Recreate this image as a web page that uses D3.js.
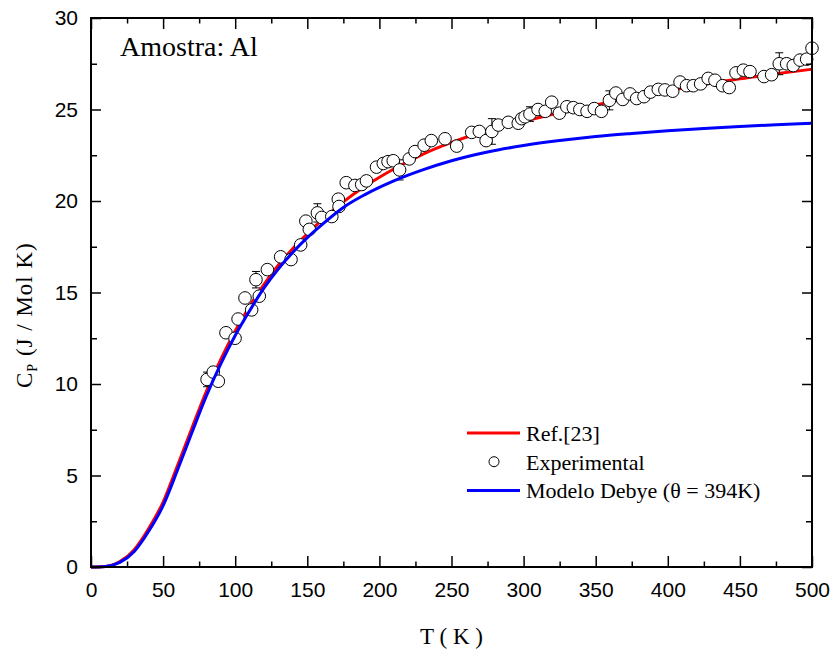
<!DOCTYPE html>
<html>
<head>
<meta charset="utf-8">
<script src="https://cdn.jsdelivr.net/npm/d3@7"></script>
<style>
    body { margin: 0; background: #fff; }
    svg { display: block; }
</style>
</head>
<body>
<svg width="832" height="652"></svg>
<script>
    //参考曲线 Ref.[23]
    const refT = [0, 10, 20, 30, 40, 50, 60, 70, 80, 90, 100, 110, 120, 130, 140, 150, 160, 175, 190, 210, 230, 250, 275, 300, 325, 350, 375, 400, 425, 450, 475, 500];
    const refCp = [0, 0.03, 0.3, 0.95, 2.1, 3.55, 5.55, 7.6, 9.6, 11.35, 12.9, 14.25, 15.45, 16.5, 17.4, 18.2, 18.95, 19.95, 20.8, 21.75, 22.55, 23.2, 23.85, 24.35, 24.82, 25.25, 25.66, 26.03, 26.37, 26.68, 26.95, 27.2];

    //Debye 模型曲线 (θ = 394K)
    const debyeT = [0, 10, 20, 30, 40, 50, 60, 70, 80, 90, 100, 110, 120, 130, 140, 150, 160, 175, 190, 210, 230, 250, 275, 300, 325, 350, 375, 400, 425, 450, 475, 500];
    const debyeCp = [0, 0.03, 0.25, 0.85, 1.95, 3.35, 5.3, 7.35, 9.35, 11.1, 12.65, 14.0, 15.25, 16.3, 17.2, 18.0, 18.7, 19.65, 20.35, 21.1, 21.7, 22.2, 22.68, 23.03, 23.3, 23.52, 23.69, 23.84, 23.96, 24.07, 24.17, 24.25];

    //实验数据点及误差 (0 = 无误差棒)
    const expT = [80.5, 84.8, 88.3, 93.6, 99.9, 102, 106.8, 111.4, 114.4, 116.7, 122.3, 131.5, 138.7, 145.4, 149, 151.4, 157, 160, 167, 171.5, 172, 177, 183, 187.7, 191, 198, 202.7, 206, 209.6, 214, 220.7, 224.7, 231, 236, 245.5, 253.6, 264, 269.3, 274, 278, 282.5, 289.4, 296.3, 298.7, 301, 304.4, 310, 315, 319.5, 324.8, 330, 334.5, 339, 344, 349, 354, 359.5, 364, 368.7, 373.8, 378.4, 383.5, 388, 393.4, 398, 403.4, 408.5, 413, 417.7, 422.8, 428, 432.7, 438, 442.6, 447.3, 452.4, 457, 466.7, 472, 477.3, 482.4, 487, 491.7, 496.3, 500];
    const expCp = [10.25, 10.65, 10.15, 12.8, 12.5, 13.55, 14.7, 14.05, 15.7, 14.8, 16.25, 16.95, 16.8, 17.6, 18.9, 18.45, 19.35, 19.1, 19.15, 20.1, 19.7, 21.0, 20.85, 20.9, 21.1, 21.85, 22.05, 22.15, 22.2, 21.7, 22.3, 22.7, 23.05, 23.3, 23.4, 23.0, 23.75, 23.8, 23.3, 23.8, 24.15, 24.3, 24.25, 24.5, 24.6, 24.75, 25.0, 24.9, 25.4, 24.8, 25.15, 25.1, 25.0, 24.9, 25.05, 24.9, 25.5, 25.9, 25.55, 25.85, 25.6, 25.7, 25.95, 26.1, 26.07, 26.0, 26.5, 26.3, 26.3, 26.4, 26.7, 26.6, 26.3, 26.2, 27.0, 27.15, 27.07, 26.8, 26.9, 27.5, 27.5, 27.4, 27.7, 27.75, 28.35];
    const expErr = [0.4, 0, 0, 0, 0, 0, 0, 0, 0.45, 0, 0, 0, 0, 0, 0, 0, 0.5, 0, 0, 0, 0, 0, 0, 0, 0, 0, 0, 0, 0, 0.55, 0, 0, 0, 0, 0, 0, 0, 0, 0, 0.7, 0, 0, 0, 0, 0, 0.4, 0, 0, 0, 0, 0, 0, 0, 0, 0, 0, 0.52, 0, 0, 0, 0, 0, 0, 0, 0, 0, 0, 0, 0, 0, 0, 0, 0, 0, 0, 0, 0, 0, 0, 0.6, 0, 0, 0, 0, 0];

    //坐标轴刻度
    const xTicks = [0, 50, 100, 150, 200, 250, 300, 350, 400, 450, 500];
    const xMinor = [25, 75, 125, 175, 225, 275, 325, 375, 425, 475];
    const yTicks = [0, 5, 10, 15, 20, 25, 30];
    const yMinor = [2.5, 7.5, 12.5, 17.5, 22.5, 27.5];

    //图例
    const legendItems = [
        {label: "Ref.[23]", type: "line", color: "#ff0000"},
        {label: "Experimental", type: "circle", color: "#000"},
        {label: "Modelo Debye (\u03b8 = 394K)", type: "line", color: "#0000ff"}
    ];

    let svg = d3.select("svg");
    let plotLeft = 91, plotRight = 812, plotTop = 18, plotBottom = 567;

    let x = d3.scaleLinear().domain([0, 500]).range([plotLeft, plotRight]);
    let y = d3.scaleLinear().domain([0, 30]).range([plotBottom, plotTop]);

    const sansFont = "'Liberation Sans', Arial, sans-serif";
    const serifFont = "'Liberation Serif', 'Times New Roman', serif";

    let plot = svg.append("g");

    //曲线生成器
    function curveLine(ts, cps) {
        let pts = ts.map((t, i) => [t, cps[i]]);
        return d3.line()
            .x(d => x(d[0]))
            .y(d => y(d[1]))
            .curve(d3.curveMonotoneX)(pts);
    }

    //红色参考曲线(在数据点下方)
    plot.append("path")
        .attr("d", curveLine(refT, refCp))
        .attr("fill", "none")
        .attr("stroke", "#ff0000")
        .attr("stroke-width", 3);

    //实验数据误差棒
    let errData = expT.map((t, i) => ({t: t, cp: expCp[i], e: expErr[i]})).filter(d => d.e > 0);
    let err = plot.append("g").attr("stroke", "#000").attr("stroke-width", 1);
    errData.forEach(d => {
        let cx = x(d.t);
        err.append("line").attr("x1", cx).attr("x2", cx).attr("y1", y(d.cp - d.e)).attr("y2", y(d.cp + d.e));
        err.append("line").attr("x1", cx - 4).attr("x2", cx + 4).attr("y1", y(d.cp - d.e)).attr("y2", y(d.cp - d.e));
        err.append("line").attr("x1", cx - 4).attr("x2", cx + 4).attr("y1", y(d.cp + d.e)).attr("y2", y(d.cp + d.e));
    });

    //实验数据圆点
    plot.append("g")
        .selectAll("circle")
        .data(expT.map((t, i) => [t, expCp[i]]))
        .enter()
        .append("circle")
        .attr("cx", d => x(d[0]))
        .attr("cy", d => y(d[1]))
        .attr("r", 6.3)
        .attr("fill", "#fff")
        .attr("stroke", "#000")
        .attr("stroke-width", 1);

    //蓝色 Debye 曲线(在最上层)
    plot.append("path")
        .attr("d", curveLine(debyeT, debyeCp))
        .attr("fill", "none")
        .attr("stroke", "#0000ff")
        .attr("stroke-width", 3);

    //坐标轴(刻度朝内, 四边都有)
    function styleAxis(g) {
        g.select(".domain").remove();
        g.selectAll("line").attr("stroke", "#000").attr("stroke-width", 1.5);
        g.selectAll("text").attr("fill", "#000").style("font-family", sansFont).style("font-size", "21px");
    }

    svg.append("g").attr("transform", `translate(0,${plotBottom})`)
        .call(d3.axisBottom(x).tickValues(xTicks).tickFormat(d3.format("d")).tickSize(-11).tickPadding(15))
        .call(styleAxis);
    svg.append("g").attr("transform", `translate(0,${plotBottom})`)
        .call(d3.axisBottom(x).tickValues(xMinor).tickFormat("").tickSize(-5.5))
        .call(styleAxis);
    svg.append("g").attr("transform", `translate(0,${plotTop})`)
        .call(d3.axisTop(x).tickValues(xTicks).tickFormat("").tickSize(-11))
        .call(styleAxis);
    svg.append("g").attr("transform", `translate(0,${plotTop})`)
        .call(d3.axisTop(x).tickValues(xMinor).tickFormat("").tickSize(-5.5))
        .call(styleAxis);

    svg.append("g").attr("transform", `translate(${plotLeft},0)`)
        .call(d3.axisLeft(y).tickValues(yTicks).tickFormat(d3.format("d")).tickSize(-10).tickPadding(13))
        .call(styleAxis);
    svg.append("g").attr("transform", `translate(${plotLeft},0)`)
        .call(d3.axisLeft(y).tickValues(yMinor).tickFormat("").tickSize(-6))
        .call(styleAxis);
    svg.append("g").attr("transform", `translate(${plotRight},0)`)
        .call(d3.axisRight(y).tickValues(yTicks).tickFormat("").tickSize(-10))
        .call(styleAxis);
    svg.append("g").attr("transform", `translate(${plotRight},0)`)
        .call(d3.axisRight(y).tickValues(yMinor).tickFormat("").tickSize(-6))
        .call(styleAxis);

    //外框
    svg.append("rect")
        .attr("x", plotLeft).attr("y", plotTop)
        .attr("width", plotRight - plotLeft).attr("height", plotBottom - plotTop)
        .attr("fill", "none")
        .attr("stroke", "#000")
        .attr("stroke-width", 2);

    //坐标轴标题
    svg.append("text")
        .attr("x", (plotLeft + plotRight) / 2)
        .attr("y", 644)
        .attr("text-anchor", "middle")
        .style("font-family", serifFont)
        .style("font-size", "23px")
        .text("T ( K )");

    //纵轴标题, 从下往上
    let yTitle = svg.append("text")
        .attr("transform", "translate(32,388) rotate(-90)")
        .attr("text-anchor", "start")
        .style("font-family", serifFont)
        .style("font-size", "23px")
        .style("letter-spacing", "1px");
    yTitle.append("tspan").text("C");
    yTitle.append("tspan").attr("dy", 5).style("font-size", "14px").text("P");
    yTitle.append("tspan").attr("dy", -5).text(" (J / Mol K)");

    //样品标注
    svg.append("text")
        .attr("x", 120)
        .attr("y", 56)
        .style("font-family", serifFont)
        .style("font-size", "28px")
        .text("Amostra: Al");

    //图例
    let legend = svg.append("g");
    legendItems.forEach((d, i) => {
        let ly = 433 + i * 28.7;
        if (d.type === "line") {
            legend.append("line")
                .attr("x1", 467).attr("x2", 520)
                .attr("y1", ly).attr("y2", ly)
                .attr("stroke", d.color)
                .attr("stroke-width", 3);
        } else {
            legend.append("circle")
                .attr("cx", 494).attr("cy", ly)
                .attr("r", 5)
                .attr("fill", "#fff")
                .attr("stroke", d.color)
                .attr("stroke-width", 1);
        }
        legend.append("text")
            .attr("x", 526)
            .attr("y", ly + 8)
            .style("font-family", serifFont)
            .style("font-size", "22px")
            .text(d.label);
    });
</script>
</body>
</html>
